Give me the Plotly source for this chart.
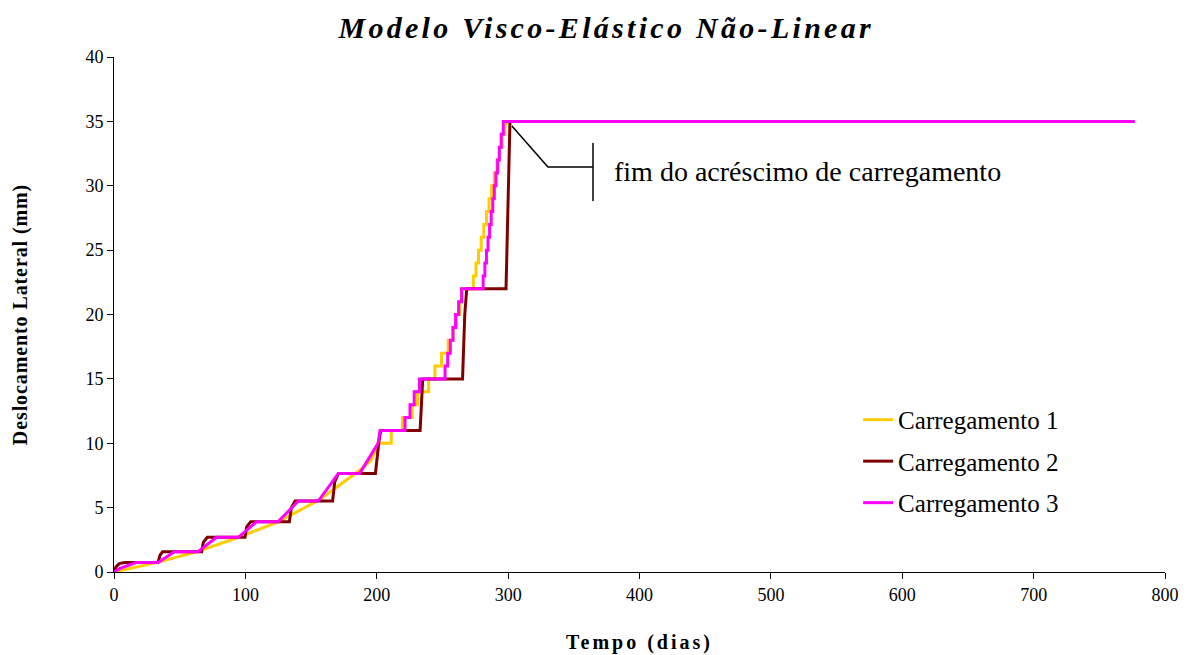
import plotly.graph_objects as go

# Tempo (dias) e deslocamento lateral (mm) para cada histórico de carregamento
dias_c1 = [0, 33, 64, 95, 125, 157, 187, 195, 199, 201, 211, 211, 219.6, 219.6, 227, 227, 231, 231,
           239.5, 239.5, 244.3, 244.3, 249.3, 249.3, 254.4, 254.4, 258.2, 258.2, 260.7, 260.7,
           263.2, 263.2, 264.6, 264.6, 273.5, 273.5, 275.5, 275.5, 277.5, 277.5, 279.5, 279.5,
           281.5, 281.5, 283.5, 283.5, 285.5, 285.5, 287.5, 287.5, 289.5, 289.5, 291.5, 291.5,
           293.5, 293.5, 295.5, 295.5, 297.5, 297.5, 299, 750]
desl_c1 = [0, 0.75, 1.6, 2.7, 3.9, 5.65, 7.9, 8.6, 9.4, 10, 10, 11, 11, 12, 12, 13, 13, 14,
           14, 15, 15, 16, 16, 17, 17, 18, 18, 19, 19, 20,
           20, 21, 21, 22, 22, 23, 23, 24, 24, 25, 25, 26,
           26, 27, 27, 28, 28, 29, 29, 30, 30, 31, 31, 32,
           32, 33, 33, 34, 34, 34.6, 35, 35]

dias_c2 = [0, 1.5, 4, 8, 33.5, 35, 37, 66.7, 68, 71, 99.7, 101, 104, 133.5, 135, 137.8,
           166.4, 168, 170.8, 199, 201.5, 203, 233, 235, 265.3, 267, 268.5, 298.4, 301.4, 750]
desl_c2 = [0, 0.4, 0.65, 0.73, 0.73, 1.3, 1.58, 1.58, 2.3, 2.69, 2.69, 3.5, 3.91, 3.91, 5.0, 5.51,
           5.51, 7.0, 7.66, 7.66, 10.0, 11.0, 11.0, 15.0, 15.0, 20.0, 22.0, 22.0, 35.0, 35.0]

dias_c3 = [0, 5, 17, 33.5, 46, 64, 78, 94.6, 108.6, 125, 140.3, 155.5, 170.8, 187, 201, 202.5,
           221.5, 221.5, 225.3, 225.3, 228.5, 228.5, 232.5, 232.5,
           252, 252, 254, 254, 256, 256, 258, 258, 260, 260, 262.3, 262.3, 264.6, 264.6,
           281, 281, 282.3, 282.3, 283.5, 283.5, 284.7, 284.7, 285.9, 285.9, 287.1, 287.1,
           288.3, 288.3, 289.5, 289.5, 290.7, 290.7, 292, 292, 293.3, 293.3, 294.7, 294.7,
           296.3, 296.3, 777]
desl_c3 = [0, 0.3, 0.73, 0.73, 1.58, 1.58, 2.69, 2.69, 3.91, 3.91, 5.51, 5.51, 7.66, 7.66, 10, 11,
           11, 12, 12, 13, 13, 14, 14, 15,
           15, 16, 16, 17, 17, 18, 18, 19, 19, 20, 20, 21, 21, 22,
           22, 23, 23, 24, 24, 25, 25, 26, 26, 27, 27, 28,
           28, 29, 29, 30, 30, 31, 31, 32, 32, 33, 33, 34,
           34, 35, 35]

series_names = ["Carregamento 1", "Carregamento 2", "Carregamento 3"]
series_colors = ["#FFCC00", "#800000", "#FF00FF"]

x_ticks = [0, 100, 200, 300, 400, 500, 600, 700, 800]
y_ticks = [0, 5, 10, 15, 20, 25, 30, 35, 40]

# Indicação do fim do acréscimo de carregamento (dias, mm)
seta_x = [302.9, 330.3, 364.6]
seta_y = [34.64, 31.46, 31.46]
barra_x = 364.6
barra_y = [28.82, 33.32]
nota_texto = "fim do acréscimo de carregamento"
nota_pos = (379, 31.1)

SERIF = "Liberation Serif, Times New Roman, serif"

fig = go.Figure()
for xs, ys, nome, cor in zip([dias_c1, dias_c2, dias_c3], [desl_c1, desl_c2, desl_c3],
                             series_names, series_colors):
    fig.add_trace(go.Scatter(
        x=xs, y=ys, mode="lines", name=nome, legendgroup=nome,
        line=dict(color=cor, width=3),
    ))

fig.add_trace(go.Scatter(
    x=seta_x, y=seta_y, mode="lines", line=dict(color="black", width=1.5),
    showlegend=False, hoverinfo="skip",
))
fig.add_trace(go.Scatter(
    x=[barra_x, barra_x], y=barra_y, mode="lines", line=dict(color="black", width=1.5),
    showlegend=False, hoverinfo="skip",
))

fig.add_annotation(
    x=nota_pos[0], y=nota_pos[1], text=nota_texto, showarrow=False,
    xanchor="left", yanchor="middle", font=dict(family=SERIF, size=28, color="black"),
)

fig.update_layout(
    width=1191, height=655,
    margin=dict(l=114, r=26, t=57, b=83),
    paper_bgcolor="white", plot_bgcolor="white",
    title=dict(
        text="<b><i>Modelo Visco-Elástico Não-Linear</i></b>",
        x=0.509, xanchor="center", y=0.958, yanchor="middle", xref="container",
        font=dict(family=SERIF, size=30, color="black"),
    ),
    legend=dict(
        x=0.708, y=0.340, xanchor="left", yanchor="top",
        font=dict(family=SERIF, size=25, color="black"),
        bgcolor="rgba(0,0,0,0)", tracegroupgap=6,
    ),
    showlegend=True,
)

fig.update_xaxes(
    range=[0, 800], tickvals=x_ticks, ticks="outside", ticklen=6, tickcolor="black",
    showline=True, linecolor="black", linewidth=1, showgrid=False, zeroline=False,
    tickfont=dict(family=SERIF, size=18, color="black"), automargin=False,
    title=dict(text="<b>Tempo (dias)</b>", font=dict(family=SERIF, size=20, color="black"),
               standoff=31),
)
fig.update_yaxes(
    range=[0, 40], tickvals=y_ticks, ticks="outside", ticklen=6, tickcolor="black",
    showline=True, linecolor="black", linewidth=1, showgrid=False, zeroline=False,
    tickfont=dict(family=SERIF, size=18, color="black"), automargin=False,
    title=dict(text="<b>Deslocamento Lateral (mm)</b>",
               font=dict(family=SERIF, size=20, color="black"), standoff=52),
)

# Espaçamento entre letras dos títulos
espacamento = """
var gd = document.getElementsByClassName('plotly-graph-div')[0];
function espacar(sel, px) {
  gd.querySelectorAll(sel).forEach(function (el) { el.style.letterSpacing = px; });
}
espacar('.gtitle', '3.3px');
espacar('.xtitle', '3px');
espacar('.ytitle', '0.9px');
"""

fig.write_html("out.html", post_script=espacamento)
